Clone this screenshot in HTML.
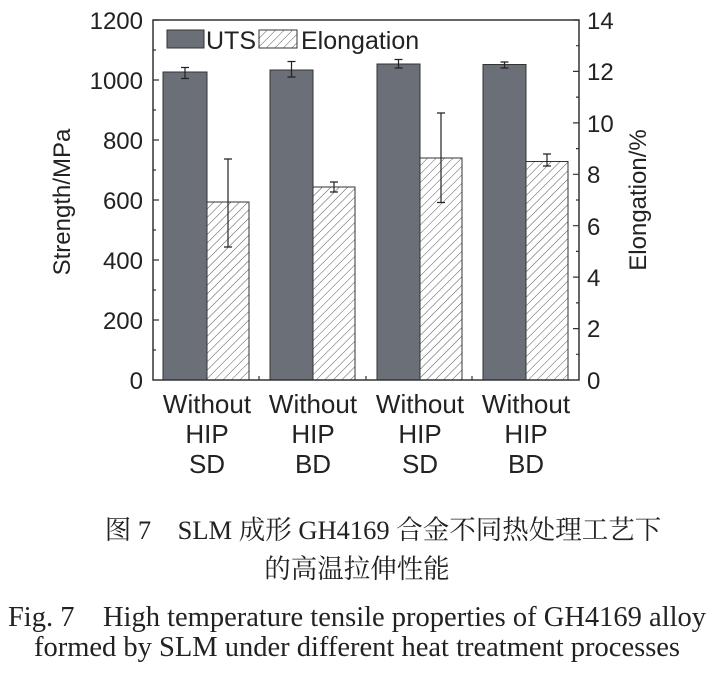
<!DOCTYPE html>
<html><head><meta charset="utf-8"><style>
body{margin:0;background:#fff;width:714px;height:675px;overflow:hidden}
svg text{font-family:"Liberation Sans",sans-serif;fill:#222}
.cap{position:absolute;left:0;width:714px;text-align:center;font-family:"Liberation Serif","Noto Serif CJK SC",serif;color:#222;white-space:nowrap}
</style></head><body>
<svg width="714" height="500" style="position:absolute;left:0;top:0">
<defs><pattern id="h" width="6" height="6" patternUnits="userSpaceOnUse" patternTransform="rotate(45)"><rect width="6" height="6" fill="#fff"/><line x1="0" y1="0" x2="0" y2="6" stroke="#555" stroke-width="1"/></pattern></defs>
<g stroke="#333" stroke-width="1">
<rect x="163" y="72" width="44" height="308" fill="#6b6f78"/>
<rect x="207" y="202" width="42" height="178" fill="url(#h)"/>
<rect x="270" y="70" width="43" height="310" fill="#6b6f78"/>
<rect x="313" y="187" width="42" height="193" fill="url(#h)"/>
<rect x="377" y="64" width="43" height="316" fill="#6b6f78"/>
<rect x="420" y="158" width="42" height="222" fill="url(#h)"/>
<rect x="483" y="64.5" width="43" height="315.5" fill="#6b6f78"/>
<rect x="526" y="161.5" width="42" height="218.5" fill="url(#h)"/>
</g>
<g stroke="#222" stroke-width="1.2" fill="none">
<path d="M185 67.5V78.5M181 67.5h8M181 78.5h8"/>
<path d="M228 159V247M224 159h8M224 247h8"/>
<path d="M291.5 61.5V77M287.5 61.5h8M287.5 77h8"/>
<path d="M334 182V192M330 182h8M330 192h8"/>
<path d="M398.5 59.5V68M394.5 59.5h8M394.5 68h8"/>
<path d="M441 113V202.5M437 113h8M437 202.5h8"/>
<path d="M504.5 62V68M500.5 62h8M500.5 68h8"/>
<path d="M547 154V166M543 154h8M543 166h8"/>
</g>
<rect x="153" y="20" width="426" height="360" fill="none" stroke="#333" stroke-width="1.5"/>
<g stroke="#333" stroke-width="1.2">
<path d="M153 20h6M153 50h3M153 80h6M153 110h3M153 140h6M153 170h3M153 200h6M153 230h3M153 260h6M153 290h3M153 320h6M153 350h3"/>
<path d="M579 20h-6M579 45.7h-3M579 71.4h-6M579 97.1h-3M579 122.9h-6M579 148.6h-3M579 174.3h-6M579 200h-3M579 225.7h-6M579 251.4h-3M579 277.1h-6M579 302.9h-3M579 328.6h-6M579 354.3h-3"/>
<path d="M259 380v-4M366 380v-4M472 380v-4"/>
</g>
<g font-size="24" text-anchor="end">
<text x="143" y="29">1200</text><text x="143" y="89">1000</text><text x="143" y="149">800</text><text x="143" y="209">600</text><text x="143" y="269">400</text><text x="143" y="329">200</text><text x="143" y="389">0</text>
</g>
<g font-size="24" text-anchor="start">
<text x="587" y="29">14</text><text x="587" y="80">12</text><text x="587" y="132">10</text><text x="587" y="183">8</text><text x="587" y="235">6</text><text x="587" y="286">4</text><text x="587" y="337">2</text><text x="587" y="389">0</text>
</g>
<text font-size="24" transform="translate(70 202) rotate(-90)" text-anchor="middle">Strength/MPa</text>
<text font-size="24" transform="translate(646 200) rotate(-90)" text-anchor="middle">Elongation/%</text>
<rect x="167" y="30" width="37" height="18" fill="#6b6f78" stroke="#333"/>
<text x="206" y="49" font-size="25">UTS</text>
<rect x="259" y="30" width="38" height="18" fill="url(#h)" stroke="#333"/>
<text x="301" y="49" font-size="25">Elongation</text>
<g font-size="26" text-anchor="middle">
<text x="207" y="413">Without</text><text x="207" y="443">HIP</text><text x="207" y="473">SD</text>
<text x="313" y="413">Without</text><text x="313" y="443">HIP</text><text x="313" y="473">BD</text>
<text x="420" y="413">Without</text><text x="420" y="443">HIP</text><text x="420" y="473">SD</text>
<text x="526" y="413">Without</text><text x="526" y="443">HIP</text><text x="526" y="473">BD</text>
</g>
</svg>
<div class="cap" style="top:508px;font-size:26.5px;left:26px">图 7　SLM 成形 GH4169 合金不同热处理工艺下</div>
<div class="cap" style="top:547px;font-size:26.5px">的高温拉伸性能</div>
<div class="cap" style="top:594px;font-size:28.5px">Fig. 7　High temperature tensile properties of GH4169 alloy</div>
<div class="cap" style="top:632px;font-size:28.5px">formed by SLM under different heat treatment processes</div>
</body></html>
